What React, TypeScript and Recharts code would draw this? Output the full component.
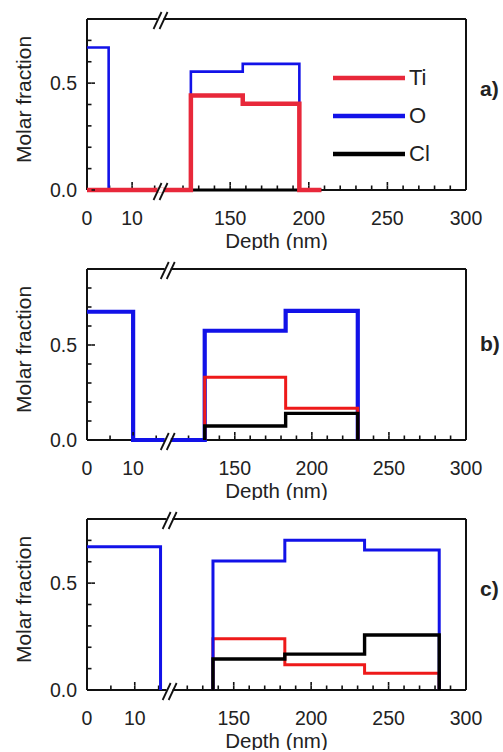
import React from "react";
import { LineChart, Line, XAxis, YAxis, Legend, ReferenceDot, Label } from "recharts";

type Pt = [number, number | null];
type Brk = { leftEnd: number; rightStart: number; split: number };

const FONT = '"Liberation Sans", Arial, sans-serif';
const X_MAX = 300;

// axis ticks (depth in nm, molar fraction)
const xTicksLeft = [0, 5, 10, 15];
const xTicksRight = [120, 130, 140, 150, 160, 170, 180, 190, 200, 210, 220, 230, 240, 250, 260, 270, 280, 290, 300];
const xLabeled = [0, 10, 150, 200, 250, 300];
const yTicks08 = [0, 0.1, 0.2, 0.3, 0.4, 0.5, 0.6, 0.7, 0.8];
const yTicks09 = [0, 0.1, 0.2, 0.3, 0.4, 0.5, 0.6, 0.7, 0.8, 0.9];
const yLabeled = [0, 0.5];

// step profiles: [depth where level starts, molar fraction]
// a)
const tiA: Pt[] = [[0, 0], [125, 0.442], [158, 0.403], [194, 0], [208, 0]];
const oA: Pt[] = [[0, 0.667], [4.8, 0], [125, 0.554], [158, 0.59], [194, 0]];
const clA: Pt[] = [[0, 0], [208, 0]];
// b)
const tiB: Pt[] = [[130.5, 0], [130.5, 0.33], [183, 0.167], [229.8, 0]];
const oB: Pt[] = [[0, 0.675], [10, 0], [130.5, 0.575], [183, 0.68], [229.8, 0]];
const clB: Pt[] = [[130.5, 0], [130.5, 0.074], [183, 0.14], [229.8, 0]];
// c)
const tiC: Pt[] = [[136.6, 0], [136.6, 0.24], [183, 0.118], [234.5, 0.078], [282.7, 0]];
const oC: Pt[] = [[0, 0.67], [15.4, 0], [15.4, null], [136.6, 0], [136.6, 0.604], [183, 0.701], [234.5, 0.655], [282.7, 0]];
const clC: Pt[] = [[136.6, 0], [136.6, 0.145], [183, 0.168], [234.5, 0.257], [282.7, 0]];

// broken x axis: 0..leftEnd takes `split` of the width, rightStart..300 the rest
const breakA: Brk = { leftEnd: 16.3, rightStart: 105.7, split: 0.194 };
const breakB: Brk = { leftEnd: 17.5, rightStart: 106.5, split: 0.213 };
const breakC: Brk = { leftEnd: 17.3, rightStart: 108.6, split: 0.218 };

const toU = (d: number, b: Brk) =>
  d <= b.leftEnd
    ? (b.split * d) / b.leftEnd
    : b.split + ((1 - b.split) * (d - b.rightStart)) / (X_MAX - b.rightStart);

const xTickDepths = [...xTicksLeft, ...xTicksRight];
const legendOrder = ["Ti", "O", "Cl"];

const AXIS = { stroke: "#111", strokeWidth: 2 };
const TICKLINE = { stroke: "#111", strokeWidth: 1.6 };
const TICK = 4.5; // minor tick length (mirrored axes -> inward)
const EXTRA = 3.5; // major ticks are longer by this much

const isMajorX = (i: number) => xLabeled.includes(xTickDepths[i]);
const isMajorY = (v: number) => yLabeled.some((t) => Math.abs(t - v) < 1e-6);

// (x, y) handed to the tick is the inner end of the tick line
function BottomTick({ x, y, index }: any) {
  if (!isMajorX(index)) return <g />;
  return (
    <g>
      <line x1={x} x2={x} y1={y} y2={y - EXTRA} {...TICKLINE} />
      <text x={x} y={y + TICK + 28} textAnchor="middle" dominantBaseline="central" fontSize={19.5} fill="#222" fontFamily={FONT}>
        {xTickDepths[index]}
      </text>
    </g>
  );
}

function TopTick({ x, y, index }: any) {
  if (!isMajorX(index)) return <g />;
  return <line x1={x} x2={x} y1={y} y2={y + EXTRA} {...TICKLINE} />;
}

function LeftTick({ x, y, payload }: any) {
  const v = payload.value;
  if (!isMajorY(v)) return <g />;
  return (
    <g>
      <line x1={x} x2={x + EXTRA} y1={y} y2={y} {...TICKLINE} />
      <text x={x - TICK - 10} y={y} textAnchor="end" dominantBaseline="central" fontSize={19.5} fill="#222" fontFamily={FONT}>
        {v.toFixed(1)}
      </text>
    </g>
  );
}

function RightTick({ x, y, payload }: any) {
  if (!isMajorY(payload.value)) return <g />;
  return <line x1={x} x2={x - EXTRA} y1={y} y2={y} {...TICKLINE} />;
}

function BreakMark({ cx, cy }: any) {
  return (
    <g>
      <rect x={cx - 3} y={cy - 2} width={6} height={4} fill="#fff" />
      <line x1={cx - 7} y1={cy + 10} x2={cx + 1} y2={cy - 7} stroke="#111" strokeWidth={1.8} />
      <line x1={cx - 1} y1={cy + 10} x2={cx + 7} y2={cy - 7} stroke="#111" strokeWidth={1.8} />
    </g>
  );
}

function XTitle({ viewBox }: any) {
  return (
    <text x={viewBox.x + viewBox.width / 2} y={viewBox.y + viewBox.height + 50} textAnchor="middle" dominantBaseline="central" fontSize={20.5} fill="#222" fontFamily={FONT}>
      Depth (nm)
    </text>
  );
}

function YTitle({ viewBox }: any) {
  const cy = viewBox.y + viewBox.height / 2 - 5;
  return (
    <text x={23} y={cy} transform={`rotate(-90, 23, ${cy})`} textAnchor="middle" dominantBaseline="central" fontSize={21} fill="#222" fontFamily={FONT}>
      Molar fraction
    </text>
  );
}

function LegendBox({ payload }: any) {
  const items = legendOrder.map((n) => (payload || []).find((p: any) => p.value === n)).filter(Boolean);
  return (
    <div style={{ fontFamily: FONT }}>
      {items.map((it: any) => (
        <div key={it.value} style={{ display: "flex", alignItems: "center", height: 38 }}>
          <svg width={72} height={10}>
            <line x1={0} x2={72} y1={5} y2={5} stroke={it.color} strokeWidth={4.5} />
          </svg>
          <span style={{ marginLeft: 4, fontSize: 22, color: "#222" }}>{it.value}</span>
        </div>
      ))}
    </div>
  );
}

type SeriesDef = { name: string; pts: Pt[]; color: string; width: number };

function Panel({ series, brk, yMax, yTicks, tag, tagY, showLegend }: {
  series: SeriesDef[]; brk: Brk; yMax: number; yTicks: number[]; tag: string; tagY: number; showLegend?: boolean;
}) {
  const xTickU = xTickDepths.map((d) => toU(d, brk));
  const common = { tickSize: TICK, tickMargin: 0, tickLine: TICKLINE, axisLine: AXIS, interval: 0 as const, mirror: true };
  return (
    <div style={{ position: "relative", width: 503, height: 250 }}>
      <LineChart width={503} height={250} margin={{ top: 19, right: 37, bottom: 60, left: 87 }}>
        <XAxis xAxisId="b" dataKey="x" type="number" domain={[0, 1]} ticks={xTickU} height={20} {...common}
          tick={(p: any) => <BottomTick {...p} />}>
          <Label content={(p: any) => <XTitle {...p} />} />
        </XAxis>
        <XAxis xAxisId="t" orientation="top" dataKey="x" type="number" domain={[0, 1]} ticks={xTickU} height={20} {...common}
          tick={(p: any) => <TopTick {...p} />} />
        <YAxis yAxisId="l" type="number" domain={[0, yMax]} ticks={yTicks} width={20} {...common}
          tick={(p: any) => <LeftTick {...p} />}>
          <Label content={(p: any) => <YTitle {...p} />} />
        </YAxis>
        <YAxis yAxisId="r" orientation="right" type="number" domain={[0, yMax]} ticks={yTicks} width={20} {...common}
          tick={(p: any) => <RightTick {...p} />} />
        {series.map((s) => (
          <Line
            key={s.name}
            xAxisId="b"
            yAxisId="l"
            name={s.name}
            data={s.pts.map(([d, v]) => ({ x: toU(d, brk), v }))}
            dataKey="v"
            type="stepAfter"
            stroke={s.color}
            strokeWidth={s.width}
            strokeLinejoin="miter"
            dot={false}
            activeDot={false}
            isAnimationActive={false}
            zIndex={600}
          />
        ))}
        <ReferenceDot xAxisId="b" yAxisId="l" x={brk.split} y={0} r={0} ifOverflow="visible" shape={(p: any) => <BreakMark {...p} />} zIndex={700} />
        <ReferenceDot xAxisId="b" yAxisId="l" x={brk.split} y={yMax} r={0} ifOverflow="visible" shape={(p: any) => <BreakMark {...p} />} zIndex={700} />
        {showLegend && (
          <Legend layout="horizontal" verticalAlign="middle" align="center"
            wrapperStyle={{ left: 333, top: 59, width: 130, height: "auto" }}
            content={(p: any) => <LegendBox {...p} />} />
        )}
      </LineChart>
      <div style={{ position: "absolute", left: 480, top: tagY - 13, fontFamily: FONT, fontSize: 21, fontWeight: "bold", color: "#222" }}>
        {tag}
      </div>
    </div>
  );
}

const RED = "#ee1a1a";
const BLUE = "#1212e8";
const BLACK = "#000";

export default function App() {
  return (
    <div style={{ position: "absolute", left: 0, top: 0, width: 503, height: 752, background: "#fff" }}>
      <Panel
        series={[
          { name: "Cl", pts: clA, color: BLACK, width: 3 },
          { name: "O", pts: oA, color: BLUE, width: 2.6 },
          { name: "Ti", pts: tiA, color: "#e8283a", width: 4.5 },
        ]}
        brk={breakA} yMax={0.8} yTicks={yTicks08} tag="a)" tagY={90} showLegend
      />
      <Panel
        series={[
          { name: "O", pts: oB, color: BLUE, width: 4.2 },
          { name: "Ti", pts: tiB, color: RED, width: 3 },
          { name: "Cl", pts: clB, color: BLACK, width: 3.4 },
        ]}
        brk={breakB} yMax={0.9} yTicks={yTicks09} tag="b)" tagY={95}
      />
      <Panel
        series={[
          { name: "Ti", pts: tiC, color: RED, width: 3 },
          { name: "O", pts: oC, color: BLUE, width: 3 },
          { name: "Cl", pts: clC, color: BLACK, width: 3.4 },
        ]}
        brk={breakC} yMax={0.8} yTicks={yTicks08} tag="c)" tagY={90}
      />
    </div>
  );
}
